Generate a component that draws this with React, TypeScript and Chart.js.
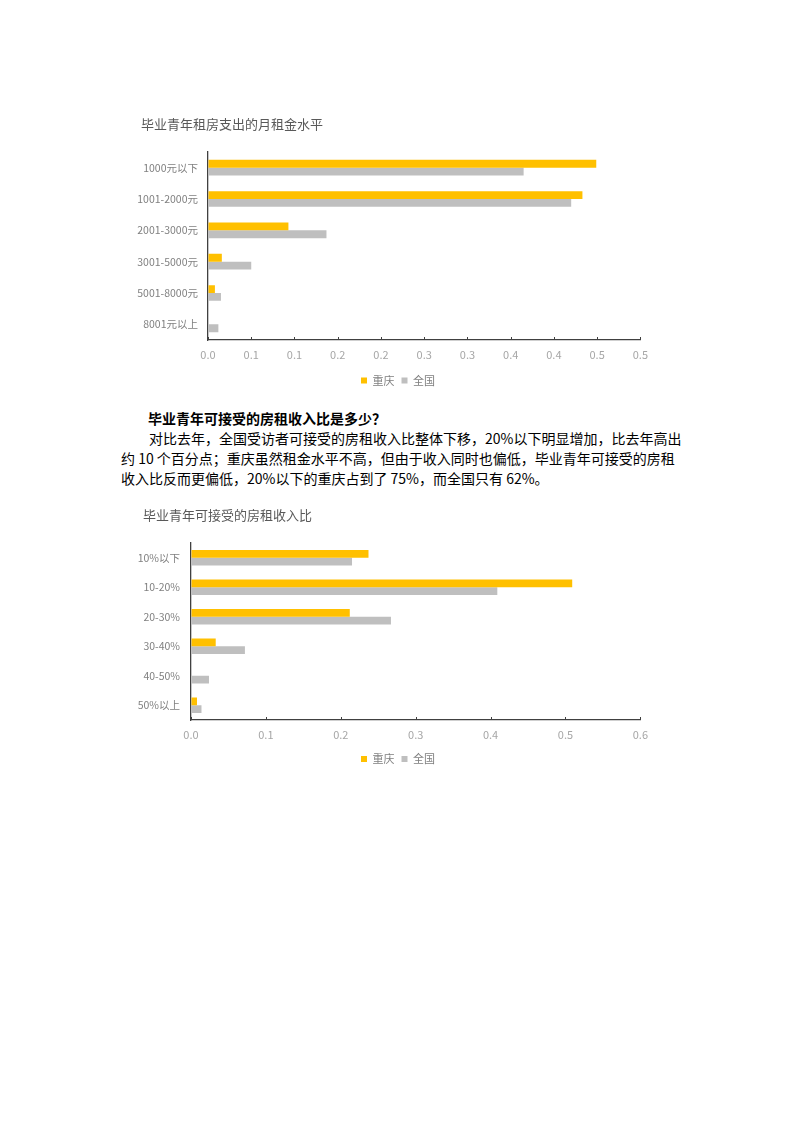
import React, { useEffect, useRef } from "react";
import { Chart, registerables } from "chart.js";

Chart.register(...registerables);

const FONT = "'Noto Sans CJK SC', 'Noto Sans', sans-serif";
const ORANGE = "#FFC000";
const GREY = "#BFBFBF";
const AXIS = "#404040";

// chart 1: monthly rent level
const rentTitle = "毕业青年租房支出的月租金水平";
const rentCategories = ["1000元以下", "1001-2000元", "2001-3000元", "3001-5000元", "5001-8000元", "8001元以上"];
const rentChongqing = [0.449, 0.433, 0.093, 0.016, 0.008, 0];
const rentNational = [0.365, 0.42, 0.137, 0.05, 0.015, 0.012];
const rentTicks = ["0.0", "0.1", "0.1", "0.2", "0.2", "0.3", "0.3", "0.4", "0.4", "0.5", "0.5"];

// chart 2: acceptable rent-to-income ratio
const ratioTitle = "毕业青年可接受的房租收入比";
const ratioCategories = ["10%以下", "10-20%", "20-30%", "30-40%", "40-50%", "50%以上"];
const ratioChongqing = [0.237, 0.509, 0.212, 0.033, 0, 0.008];
const ratioNational = [0.215, 0.409, 0.267, 0.072, 0.024, 0.014];
const ratioTicks = ["0.0", "0.1", "0.2", "0.3", "0.4", "0.5", "0.6"];

const seriesNames = ["重庆", "全国"];

// small tick marks pointing up into the plot, Excel style
const innerTicks = {
  id: "innerTicks",
  afterDraw(chart: any) {
    const x = chart.scales.x;
    const ctx = chart.ctx;
    ctx.save();
    ctx.strokeStyle = AXIS;
    ctx.lineWidth = 1;
    x.ticks.forEach((_t: any, i: number) => {
      const px = Math.round(x.getPixelForTick(i)) + 0.5;
      ctx.beginPath();
      ctx.moveTo(px, x.top);
      ctx.lineTo(px, x.top - 3);
      ctx.stroke();
    });
    ctx.restore();
  },
};

// slide title / legend sideways (the Excel layout isn't centred on the canvas)
const nudge = {
  id: "nudge",
  afterLayout(chart: any, _args: any, opts: any) {
    const t = chart.titleBlock;
    if (t && opts.title) {
      t.left += opts.title;
      t.right += opts.title;
    }
    const l = chart.legend;
    if (l && opts.legend) {
      l.left += opts.legend;
      l.right += opts.legend;
    }
  },
};

type BarProps = {
  title: string;
  categories: string[];
  chongqing: number[];
  national: number[];
  ticks: string[];
  max: number;
  step: number;
  yWidth: number;
  yPad: number;
  xHeight: number;
  padBottom: number;
  titleBottom: number;
  catPct: number;
  titleShift: number;
  legendShift: number;
};

const BarChart: React.FC<BarProps> = (p) => {
  const canvasRef = useRef<HTMLCanvasElement | null>(null);

  useEffect(() => {
    const ctx = canvasRef.current?.getContext("2d");
    if (!ctx) return;

    const chart = new Chart(ctx, {
      type: "bar",
      data: {
        labels: p.categories,
        datasets: [
          {
            label: seriesNames[0],
            data: p.chongqing,
            backgroundColor: ORANGE,
            borderWidth: 0,
            categoryPercentage: p.catPct,
            barPercentage: 1,
          },
          {
            label: seriesNames[1],
            data: p.national,
            backgroundColor: GREY,
            borderWidth: 0,
            categoryPercentage: p.catPct,
            barPercentage: 1,
          },
        ],
      },
      options: {
        indexAxis: "y",
        animation: false,
        responsive: true,
        maintainAspectRatio: false,
        layout: { padding: { top: 0, right: 0, bottom: p.padBottom, left: 0 } },
        plugins: {
          title: {
            display: true,
            text: p.title,
            align: "start",
            color: "#595959",
            font: { family: FONT, size: 13, weight: "normal" },
            padding: { top: 8, bottom: p.titleBottom },
          },
          legend: {
            position: "bottom",
            labels: {
              boxWidth: 6,
              boxHeight: 6,
              padding: 7,
              color: "#7f7f7f",
              font: { family: FONT, size: 11 },
            },
          },
          tooltip: { enabled: false },
          nudge: { title: p.titleShift, legend: p.legendShift },
        } as any,
        scales: {
          x: {
            min: 0,
            max: p.max,
            afterFit: (scale: any) => {
              scale.height = p.xHeight;
            },
            ticks: {
              stepSize: p.step,
              padding: 8,
              color: "#a6a6a6",
              font: { family: FONT, size: 11 },
              callback: (_v: any, i: number) => p.ticks[i],
            },
            grid: { drawOnChartArea: false, drawTicks: false },
            border: { display: true, color: AXIS, width: 1.3 },
          },
          y: {
            afterFit: (scale: any) => {
              scale.width = p.yWidth;
            },
            ticks: {
              padding: p.yPad,
              color: "#808080",
              font: { family: FONT, size: 10.5 },
            },
            grid: { display: false, drawTicks: false },
            border: { display: true, color: AXIS, width: 1.3 },
          },
        },
      },
      plugins: [innerTicks, nudge],
    });

    return () => {
      chart.destroy();
    };
  }, [p]);

  return <canvas ref={canvasRef}></canvas>;
};

const rentProps: BarProps = {
  title: rentTitle,
  categories: rentCategories,
  chongqing: rentChongqing,
  national: rentNational,
  ticks: rentTicks,
  max: 0.5,
  step: 0.05,
  yWidth: 78,
  yPad: 10,
  xHeight: 28,
  padBottom: 4,
  titleBottom: 20.4,
  catPct: 0.5,
  titleShift: 11,
  legendShift: 5,
};

const ratioProps: BarProps = {
  title: ratioTitle,
  categories: ratioCategories,
  chongqing: ratioChongqing,
  national: ratioNational,
  ticks: ratioTicks,
  max: 0.6,
  step: 0.1,
  yWidth: 61,
  yPad: 11,
  xHeight: 26.5,
  padBottom: 5.5,
  titleBottom: 20.4,
  catPct: 0.52,
  titleShift: 13,
  legendShift: 5,
};

const heading = "毕业青年可接受的房租收入比是多少？";
const lines = [
  "对比去年，全国受访者可接受的房租收入比整体下移，20%以下明显增加，比去年高出",
  "约 10 个百分点；重庆虽然租金水平不高，但由于收入同时也偏低，毕业青年可接受的房租",
  "收入比反而更偏低，20%以下的重庆占到了 75%，而全国只有 62%。",
];

export default function App() {
  return (
    <div style={{ fontFamily: FONT }}>
      <div style={{ position: "absolute", left: 130, top: 108, width: 526, height: 292 }}>
        <BarChart {...rentProps} />
      </div>

      <div
        style={{
          position: "absolute",
          left: 121,
          top: 408,
          width: 552,
          fontSize: 14,
          lineHeight: "20px",
          color: "#000",
        }}
      >
        <div style={{ fontWeight: "bold", paddingLeft: 27 }}>{heading}</div>
        {lines.map((l, i) => (
          <div
            key={i}
            style={{
              paddingLeft: i === 0 ? 28 : 0,
              textAlign: "justify",
              textAlignLast: i < lines.length - 1 ? "justify" : "left",
              whiteSpace: "nowrap",
            }}
          >
            {l}
          </div>
        ))}
      </div>

      <div style={{ position: "absolute", left: 130, top: 499, width: 526, height: 281 }}>
        <BarChart {...ratioProps} />
      </div>
    </div>
  );
}
